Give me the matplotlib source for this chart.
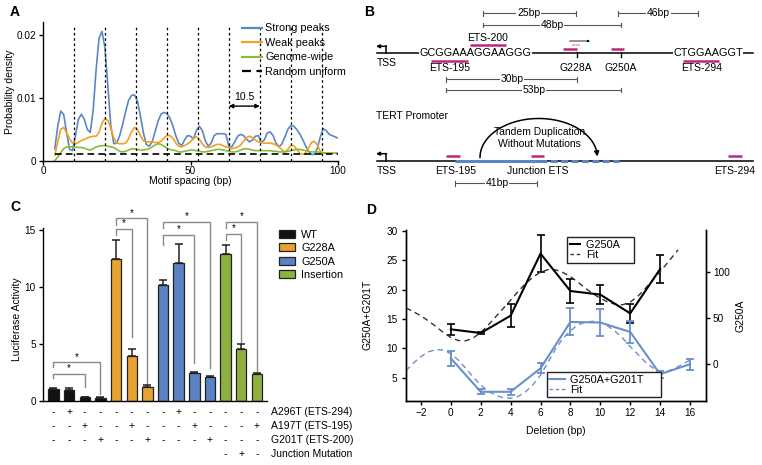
import numpy as np
import matplotlib.pyplot as plt
from matplotlib.patches import Patch
from matplotlib.lines import Line2D

plt.rcParams['font.family'] = ['Liberation Sans', 'DejaVu Sans']
plt.rcParams['font.size'] = 7.5
plt.rcParams['axes.linewidth'] = 1.0
plt.rcParams['xtick.major.width'] = 1.0
plt.rcParams['ytick.major.width'] = 1.0
plt.rcParams['xtick.major.size'] = 3
plt.rcParams['ytick.major.size'] = 3
plt.rcParams['xtick.major.pad'] = 2
plt.rcParams['ytick.major.pad'] = 2
plt.rcParams['xtick.labelsize'] = 7.2
plt.rcParams['ytick.labelsize'] = 7.2

W, H = 762, 465

# ---------------- Panel A data: motif spacing densities ----------------
spacing = np.arange(4, 101)
strong = [0.0019, 0.0055, 0.0079, 0.0074, 0.0045, 0.0018, 0.0016, 0.0040, 0.0066, 0.0074,
          0.0066, 0.0050, 0.0045, 0.0080, 0.0145, 0.0195, 0.0206, 0.0180, 0.0118, 0.0055,
          0.0027, 0.0028, 0.0040, 0.0058, 0.0078, 0.0096, 0.0104, 0.0105, 0.0095, 0.0072,
          0.0045, 0.0026, 0.0023, 0.0030, 0.0046, 0.0063, 0.0074, 0.0077, 0.0075, 0.0068,
          0.0056, 0.0040, 0.0028, 0.0024, 0.0033, 0.0040, 0.0039, 0.0035, 0.0048, 0.0055,
          0.0048, 0.0032, 0.0023, 0.0028, 0.0040, 0.0043, 0.0043, 0.0043, 0.0042, 0.0023,
          0.0022, 0.0030, 0.0039, 0.0042, 0.0040, 0.0034, 0.0030, 0.0033, 0.0039, 0.0040,
          0.0029, 0.0033, 0.0044, 0.0046, 0.0040, 0.0028, 0.0022, 0.0027, 0.0038, 0.0050,
          0.0056, 0.0055, 0.0050, 0.0043, 0.0034, 0.0024, 0.0015, 0.0010, 0.0010, 0.0020,
          0.0038, 0.0051, 0.0048, 0.0042, 0.0040, 0.0038, 0.0036]
weak = [0.0009, 0.0030, 0.0050, 0.0053, 0.0045, 0.0035, 0.0028, 0.0027, 0.0029, 0.0032,
        0.0034, 0.0036, 0.0038, 0.0039, 0.0039, 0.0045, 0.0060, 0.0067, 0.0064, 0.0052,
        0.0036, 0.0028, 0.0027, 0.0027, 0.0028, 0.0035, 0.0046, 0.0053, 0.0050, 0.0040,
        0.0032, 0.0030, 0.0030, 0.0030, 0.0029, 0.0029, 0.0031, 0.0036, 0.0040, 0.0040,
        0.0036, 0.0028, 0.0023, 0.0022, 0.0024, 0.0027, 0.0030, 0.0036, 0.0038, 0.0034,
        0.0027, 0.0022, 0.0021, 0.0022, 0.0024, 0.0026, 0.0026, 0.0024, 0.0022, 0.0021,
        0.0019, 0.0020, 0.0022, 0.0025, 0.0031, 0.0037, 0.0039, 0.0037, 0.0033, 0.0030,
        0.0029, 0.0028, 0.0028, 0.0028, 0.0027, 0.0025, 0.0022, 0.0017, 0.0014, 0.0018,
        0.0024, 0.0024, 0.0018, 0.0012, 0.0010, 0.0012, 0.0020, 0.0029, 0.0031, 0.0025,
        0.0015, 0.0012, 0.0012, 0.0012, 0.0012, 0.0012, 0.0012]
genome = [0.0000, 0.0006, 0.0013, 0.0019, 0.0022, 0.0022, 0.0022, 0.0022, 0.0021, 0.0021,
          0.0020, 0.0018, 0.0017, 0.0019, 0.0022, 0.0023, 0.0024, 0.0024, 0.0023, 0.0022,
          0.0021, 0.0018, 0.0015, 0.0014, 0.0015, 0.0017, 0.0019, 0.0019, 0.0018, 0.0017,
          0.0017, 0.0018, 0.0019, 0.0022, 0.0025, 0.0027, 0.0026, 0.0023, 0.0020, 0.0018,
          0.0017, 0.0016, 0.0014, 0.0014, 0.0015, 0.0016, 0.0017, 0.0017, 0.0016, 0.0015,
          0.0014, 0.0014, 0.0015, 0.0016, 0.0017, 0.0018, 0.0018, 0.0017, 0.0016, 0.0015,
          0.0014, 0.0014, 0.0015, 0.0017, 0.0019, 0.0019, 0.0018, 0.0017, 0.0016, 0.0016,
          0.0016, 0.0016, 0.0016, 0.0016, 0.0015, 0.0015, 0.0014, 0.0014, 0.0014, 0.0015,
          0.0016, 0.0017, 0.0018, 0.0018, 0.0017, 0.0016, 0.0015, 0.0014, 0.0014, 0.0014,
          0.0013, 0.0013, 0.0012, 0.0012, 0.0012, 0.0012, 0.0012]
uniform_level = 0.001
helix_marks = [10.5, 21, 31.5, 42, 52.5, 63, 73.5, 84, 94.5]

# ---------------- Panel C data: luciferase ----------------
group_names = ['WT', 'G228A', 'G250A', 'Insertion']
group_colors = ['#111111', '#E8A232', '#5B82C2', '#8DB040']
bar_group = [0, 0, 0, 0, 1, 1, 1, 2, 2, 2, 2, 3, 3, 3]
luc_mean = [1.05, 0.95, 0.29, 0.26, 12.5, 3.9, 1.25, 10.2, 12.1, 2.4, 2.05, 12.9, 4.55, 2.35]
luc_err = [0.1, 0.15, 0.04, 0.03, 1.65, 0.66, 0.1, 0.45, 1.75, 0.15, 0.17, 0.8, 0.42, 0.1]
row_labels = ['A296T (ETS-294)', 'A197T (ETS-195)', 'G201T (ETS-200)', 'Junction Mutation']
row_signs = ['-+------+-----',
             '--+--+---+---+',
             '---+--+---+---',
             '           -+-']
# (left bar, right bar, top, left drop, right drop)
sig_brackets = [(0, 2, 2.35, 1.97, 1.23), (0, 3, 3.38, 3.0, 0.56),
                (4, 5, 15.13, 14.6, 5.6), (4, 6, 16.07, 15.5, 1.47),
                (7, 9, 14.6, 13.7, 3.3), (7, 10, 15.77, 15.2, 2.9),
                (11, 12, 14.7, 14.15, 5.1), (11, 13, 15.77, 15.2, 2.6)]

# ---------------- Panel D data: deletion series ----------------
del_g250a = [0, 2, 4, 6, 8, 10, 12, 14]
g250a = [37.9, 33.9, 52.7, 119.9, 79.4, 75.5, 55.2, 103.2]
g250a_err = [6.3, 1.5, 12.6, 20.0, 13.5, 10.5, 10.5, 14.8]
del_double = [0, 2, 4, 6, 8, 10, 12, 14, 16]
double = [8.3, 2.6, 2.6, 6.6, 14.5, 14.4, 12.8, 5.6, 7.3]
double_err = [1.25, 0.45, 0.5, 0.85, 2.3, 2.25, 1.9, 0.6, 0.95]
fit_x_black = [-3, -2.5, -2, -1.5, -1, -0.5, 0, 0.5, 1, 1.5, 2, 2.5, 3, 3.5, 4, 4.5, 5, 5.5, 6,
               6.5, 7, 7.5, 8, 8.5, 9, 9.5, 10, 10.5, 11, 11.5, 12, 12.5, 13, 13.5, 14, 14.5,
               15, 15.2]
fit_black = [61, 57, 52.5, 47, 41, 34.5, 29, 25.8, 25.5, 28.5, 34.5, 42.5, 51.5, 60.5, 69.5,
             79, 87.5, 94.5, 100, 102.5, 102.5, 99.5, 95, 89, 82.5, 76.5, 71.5, 67.5, 65,
             64.5, 67.5, 73.5, 82, 91, 100.5, 110, 120, 124]
fit_x_blue = [-3, -2.5, -2, -1.5, -1, -0.5, 0, 0.5, 1, 1.5, 2, 2.5, 3, 3.5, 4, 4.5, 5, 5.5, 6,
              6.5, 7, 7.5, 8, 8.5, 9, 9.5, 10, 10.5, 11, 11.5, 12, 12.5, 13, 13.5, 14, 14.5,
              15, 15.5, 16]
fit_blue = [6.2, 7.5, 8.6, 9.4, 9.8, 9.7, 9.1, 8.0, 6.6, 5.1, 3.75, 2.7, 2.0, 1.6, 1.5, 1.8,
            2.6, 3.8, 5.45, 7.6, 9.9, 11.7, 13.0, 14.0, 14.5, 14.6, 14.4, 13.8, 12.9, 11.7,
            10.3, 9.0, 7.7, 6.7, 6.1, 6.1, 6.6, 7.3, 8.0]

fig = plt.figure(figsize=(W / 100, H / 100), dpi=100)

# ================= Panel A =================
ax_a = fig.add_axes([43 / W, 1 - 160.7 / H, 295 / W, 138.7 / H])
ax_a.plot(spacing, strong, color='#5B87C5', lw=1.2, label='Strong peaks')
ax_a.plot(spacing, weak, color='#F2A122', lw=1.2, label='Weak peaks')
ax_a.plot(spacing, genome, color='#86BC3A', lw=1.2, label='Genome-wide')
ax_a.plot([spacing[0], spacing[-1]], [uniform_level, uniform_level], color='k', lw=1.2,
          dashes=(4, 2.5), label='Random uniform')
ax_a.vlines(helix_marks, 0, 0.0215, colors='k', lw=0.9, linestyles=(0, (2, 2.2)))
ax_a.annotate('', xy=(helix_marks[5], 0.0087), xytext=(helix_marks[6], 0.0087),
              arrowprops=dict(arrowstyle='<|-|>', color='k', lw=1, mutation_scale=6,
                              shrinkA=0, shrinkB=0))
ax_a.text((helix_marks[5] + helix_marks[6]) / 2, 0.0093, '10.5', ha='center', va='bottom')
ax_a.set_xlim(0, 100)
ax_a.set_ylim(0, 0.0221)
ax_a.set_xticks([0, 50, 100])
ax_a.set_yticks([0, 0.01, 0.02])
ax_a.set_yticklabels(['0', '0.01', '0.02'])
ax_a.tick_params(axis='x', pad=1)
ax_a.spines[['top', 'right']].set_visible(False)
ax_a.set_xlabel('Motif spacing (bp)')
ax_a.set_ylabel('Probability density')
ax_a.xaxis.set_label_coords(0.5, -0.107)
ax_a.yaxis.set_label_coords(-0.095, 0.5)
leg_a = ax_a.legend(loc='upper left', bbox_to_anchor=(0.675, 0.99), frameon=False,
                    handlelength=1.8, handletextpad=0.35, labelspacing=0.42,
                    borderpad=0, borderaxespad=0, fontsize=7.8)
for lh in leg_a.get_lines():
    lh.set_linewidth(1.6)

# ================= Panel B (schematic) =================
ax_b = fig.add_axes([360 / W, 1 - 215 / H, 402 / W, 215 / H])
ax_b.set_xlim(360, 762)
ax_b.set_ylim(215, 0)
ax_b.axis('off')
magenta = '#C2237F'
top_y, bot_y = 53.3, 160.7

for ly in (top_y, bot_y):
    ax_b.plot([377, 753], [ly, ly], color='k', lw=1.1, zorder=1)
    ax_b.plot([386, 386], [ly, ly - 7], color='k', lw=1.1)
    ax_b.annotate('', xy=(376, ly - 7), xytext=(386.5, ly - 7),
                  arrowprops=dict(arrowstyle='-|>', color='k', lw=1.1, mutation_scale=5,
                                  shrinkA=0, shrinkB=0))
    ax_b.text(387, ly + 10, 'TSS', ha='center', va='center')

top_seq = [('GCGGAAAGGAAGGG', 475.5), ('CTGGAAGGT', 708)]
for s, sx in top_seq:
    ax_b.text(sx, top_y, s, ha='center', va='center', fontsize=7.8, zorder=3,
              bbox=dict(facecolor='white', edgecolor='none', pad=0.3))

top_sites = [('ETS-200', 470, 506, 45, 488, 38), ('ETS-195', 431, 468, 61, 450, 68.3),
             ('G228A', 563.3, 576.7, 49.3, 576, 68.3), ('G250A', 610.7, 624.3, 49.3, 621, 68.3),
             ('ETS-294', 683.3, 719.3, 61, 702, 68.3)]
for name, x0, x1, by, tx, ty in top_sites:
    ax_b.plot([x0, x1], [by, by], color=magenta, lw=1.8, solid_capstyle='butt', zorder=4)
    ax_b.text(tx, ty, name, ha='center', va='center')
for mx in (576.7, 621):
    ax_b.plot([mx, mx], [top_y - 1, top_y + 4], color='k', lw=1.0)

# tiny mutated motif marker
ax_b.text(576, 44.6, 'xxxx', color='#E03030', fontsize=3.2, ha='center', va='center')
ax_b.annotate('', xy=(590, 41), xytext=(569.5, 41),
              arrowprops=dict(arrowstyle='-|>', color='k', lw=0.6, mutation_scale=3,
                              shrinkA=0, shrinkB=0))

spans = [('25bp', 482.7, 576, 13.3, 528.5), ('48bp', 482.7, 621, 25, 552),
         ('46bp', 618.3, 698.3, 13.3, 658.3), ('30bp', 446, 576.7, 79.3, 512),
         ('53bp', 446, 621, 90, 534), ('41bp', 455, 536.7, 183.3, 497)]
for lab, x0, x1, sy, lx in spans:
    ax_b.plot([x0, x1], [sy, sy], color='#555555', lw=0.8)
    ax_b.plot([x0, x0], [sy - 2.3, sy + 2.3], color='#555555', lw=0.8)
    ax_b.plot([x1, x1], [sy - 2.3, sy + 2.3], color='#555555', lw=0.8)
    ax_b.text(lx, sy, lab, ha='center', va='center',
              bbox=dict(facecolor='white', edgecolor='none', pad=0.6))

ax_b.text(376, 116, 'TERT Promoter', ha='left', va='center')

blue_b = '#5A86C6'
ax_b.plot([455, 540], [bot_y, bot_y], color=blue_b, lw=2.2, solid_capstyle='butt', zorder=2)
ax_b.plot([540, 619.3], [bot_y, bot_y], color=blue_b, lw=2.2, dashes=(2.2, 1.2), zorder=2)
bot_sites = [(446, 460), (530.7, 544.3), (727.7, 741.7)]
for x0, x1 in bot_sites:
    ax_b.plot([x0, x1], [156, 156], color=magenta, lw=1.8, solid_capstyle='butt', zorder=4)
for lab, lx in [('ETS-195', 456), ('Junction ETS', 537.7), ('ETS-294', 734.3)]:
    ax_b.text(lx, bot_y + 10, lab, ha='center', va='center')

t = np.linspace(0, np.pi * 0.95, 80)
cx, cy, rx, ry = 538.7, 157.5, 58.7, 39
ax_b.plot(cx - rx * np.cos(t), cy - ry * np.sin(t), color='k', lw=1.1)
ax_b.annotate('', xy=(cx + rx, cy - 1), xytext=(cx - rx * np.cos(t[-1]), cy - ry * np.sin(t[-1])),
              arrowprops=dict(arrowstyle='-|>', color='k', lw=1.1, mutation_scale=7,
                              shrinkA=0, shrinkB=0))
ax_b.text(539.3, 131.7, 'Tandem Duplication', ha='center', va='center')
ax_b.text(539.3, 144.3, 'Without Mutations', ha='center', va='center')

# ================= Panel C =================
ax_c = fig.add_axes([42.7 / W, 1 - 400.7 / H, 224 / W, 172.4 / H])
xb = np.arange(len(luc_mean))
colors_c = [group_colors[g] for g in bar_group]
ax_c.bar(xb, luc_mean, width=0.66, color=colors_c, edgecolor='#222222', lw=0.9, zorder=2)
ax_c.errorbar(xb, luc_mean, yerr=[np.zeros(len(luc_err)), luc_err], fmt='none',
              ecolor='#222222', elinewidth=1.1, capsize=3, capthick=1.1, zorder=1)
for b0, b1, top, d0, d1 in sig_brackets:
    ax_c.plot([b0, b0, b1, b1], [d0, top, top, d1], color='#8A8A8A', lw=1.0,
              clip_on=False, zorder=0)
    ax_c.text((b0 + b1) / 2, top + 0.05, '*', ha='center', va='bottom', fontsize=7,
              clip_on=False)
ax_c.set_xlim(-0.68, 13.62)
ax_c.set_ylim(0, 15.19)
ax_c.set_yticks([0, 5, 10, 15])
ax_c.set_xticks([])
ax_c.spines[['top', 'right']].set_visible(False)
ax_c.set_ylabel('Luciferase Activity')
ax_c.yaxis.set_label_coords(-0.094, 0.47)
row_y = [-0.067, -0.147, -0.228, -0.309]
tr = ax_c.get_xaxis_transform()
for ry_, lab, signs in zip(row_y, row_labels, row_signs):
    for i, s in enumerate(signs):
        if s != ' ':
            ax_c.text(i, ry_, s, ha='center', va='center', transform=tr, clip_on=False)
    ax_c.text(13.87, ry_, lab, ha='left', va='center', transform=tr, clip_on=False)
handles_c = [Patch(facecolor=c, edgecolor='#222222', lw=0.9) for c in group_colors]
fig.legend(handles_c, group_names, loc='upper left', bbox_to_anchor=(279 / W, 1 - 229.5 / H),
           frameon=False, handlelength=1.45, handleheight=0.75, handletextpad=0.6,
           labelspacing=0.33, borderpad=0, borderaxespad=0, fontsize=7.8)

# ================= Panel D =================
ax_d = fig.add_axes([406 / W, 1 - 400.7 / H, 300 / W, 170.7 / H])
ax_d2 = ax_d.twinx()
blue_d = '#6A8FCB'
ax_d.errorbar(del_double, double, yerr=double_err, color=blue_d, lw=1.5, elinewidth=1.3,
              capsize=3, capthick=1.3)
ax_d.plot(fit_x_blue, fit_blue, color=blue_d, lw=1.0, dashes=(4, 3))
ax_d2.errorbar(del_g250a, g250a, yerr=g250a_err, color='k', lw=1.5, elinewidth=1.2,
               capsize=3, capthick=1.2)
ax_d2.plot(fit_x_black, fit_black, color='#333333', lw=1.0, dashes=(4, 3))
ax_d.set_xlim(-3, 17.07)
ax_d.set_ylim(1.08, 30.17)
ax_d2.set_ylim(-39.4, 145.5)
ax_d.set_xticks(np.arange(-2, 17, 2))
ax_d.set_yticks([5, 10, 15, 20, 25, 30])
ax_d2.set_yticks([0, 50, 100])
for a in (ax_d, ax_d2):
    a.spines['top'].set_visible(False)
ax_d.set_xlabel('Deletion (bp)')
ax_d.set_ylabel('G250A+G201T')
ax_d2.set_ylabel('G250A')
ax_d.xaxis.set_label_coords(0.5, -0.15)
ax_d.yaxis.set_label_coords(-0.113, 0.5)
ax_d2.yaxis.set_label_coords(1.097, 0.5)
ax_d.tick_params(axis='y', pad=3)
ax_d2.legend([Line2D([], [], color='k', lw=1.5), Line2D([], [], color='#333333', lw=1.0,
                                                       dashes=(2.5, 2))],
             ['G250A    ', 'Fit'], loc='upper left', bbox_to_anchor=(0.536, 0.957),
             fancybox=False, edgecolor='#222222', framealpha=1, handlelength=1.0,
             handletextpad=0.5, labelspacing=0.0, borderpad=0.25, borderaxespad=0,
             fontsize=7.8)
leg_d = ax_d.legend([Line2D([], [], color=blue_d, lw=1.5), Line2D([], [], color=blue_d, lw=1.0,
                                                                  dashes=(2.5, 2))],
                    ['G250A+G201T     ', 'Fit'], loc='lower left', bbox_to_anchor=(0.469, 0.02),
                    fancybox=False, edgecolor='#222222', framealpha=1, handlelength=1.4,
                    handletextpad=0.5, labelspacing=0.0, borderpad=0.25, borderaxespad=0,
                    fontsize=7.8)
ax_d.set_zorder(ax_d2.get_zorder() + 1)
ax_d.patch.set_visible(False)

# ================= Panel letters =================
for lab, px, py in [('A', 10, 12), ('B', 364, 12), ('C', 10, 207), ('D', 366, 210)]:
    fig.text(px / W, 1 - py / H, lab, fontsize=10, fontweight='bold', ha='left', va='center')

fig.savefig('out.png', dpi=100, facecolor='white')
